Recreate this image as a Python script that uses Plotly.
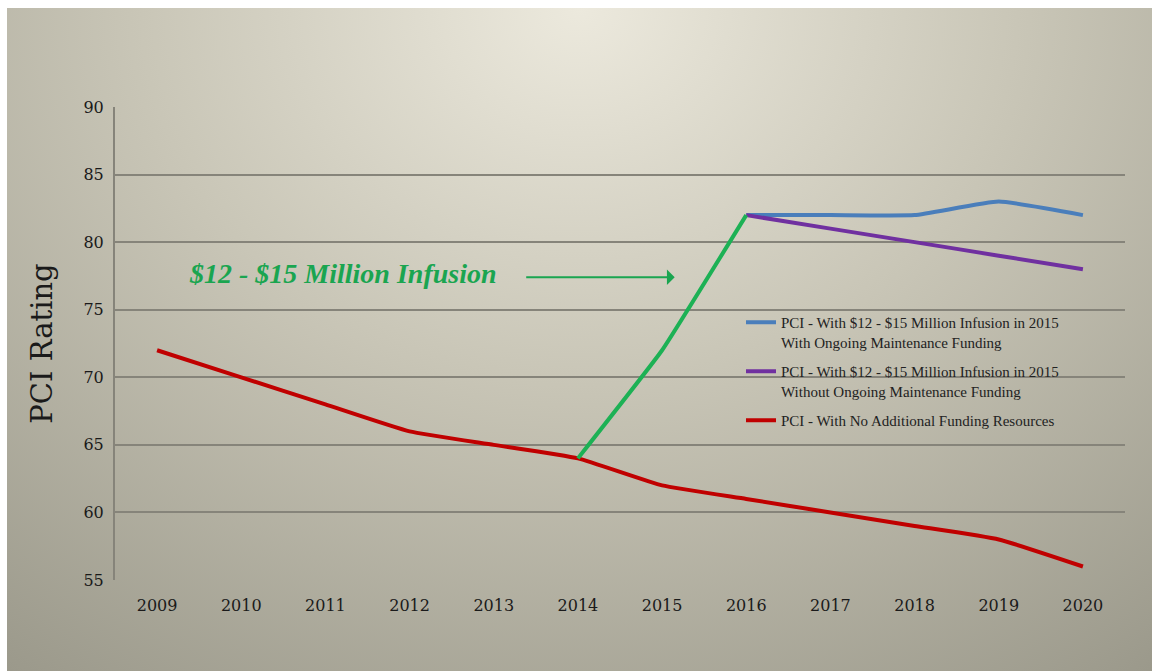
import base64
import plotly.graph_objects as go

years = ["2009", "2010", "2011", "2012", "2013", "2014", "2015", "2016", "2017", "2018", "2019", "2020"]
no_funding = [72, 70, 68, 66, 65, 64, 62, 61, 60, 59, 58, 56]
infusion_years = ["2014", "2015", "2016"]
infusion_vals = [64, 72, 82]
later_years = ["2016", "2017", "2018", "2019", "2020"]
with_maint = [82, 82, 82, 83, 82]
without_maint = [82, 81, 80, 79, 78]
y_ticks = [55, 60, 65, 70, 75, 80, 85, 90]

FONT = "Liberation Serif"
TICKFONT = "DejaVu Serif"

fig = go.Figure()
fig.add_trace(go.Scatter(x=later_years, y=with_maint, mode="lines", legendgroup="a",
                         line=dict(color="#4a7ebb", width=4, shape="spline", smoothing=0.4),
                         name="PCI - With $12 - $15 Million Infusion in 2015<br>With Ongoing Maintenance Funding"))
fig.add_trace(go.Scatter(x=later_years, y=without_maint, mode="lines", legendgroup="b",
                         line=dict(color="#7030a0", width=4, shape="spline", smoothing=0.4),
                         name="PCI - With $12 - $15 Million Infusion in 2015<br>Without Ongoing Maintenance Funding"))
fig.add_trace(go.Scatter(x=years, y=no_funding, mode="lines", legendgroup="c",
                         line=dict(color="#c00000", width=4, shape="spline", smoothing=0.4),
                         name="PCI - With No Additional Funding Resources"))
fig.add_trace(go.Scatter(x=infusion_years, y=infusion_vals, mode="lines",
                         line=dict(color="#1db155", width=4, shape="spline", smoothing=0.3),
                         showlegend=False, name="Infusion"))

svg = """<svg xmlns='http://www.w3.org/2000/svg' width='1145' height='663' viewBox='0 0 1145 663' preserveAspectRatio='none'>
<defs><radialGradient id='g' cx='0.5' cy='0' r='0.85' gradientUnits='objectBoundingBox' gradientTransform='translate(0.5,0) scale(1,1.45) translate(-0.5,0)'>
<stop offset='0' stop-color='#ece9dd'/>
<stop offset='0.45' stop-color='#c9c6b7'/>
<stop offset='1' stop-color='#9b998b'/>
</radialGradient></defs>
<rect x='0' y='0' width='1145' height='663' fill='url(#g)'/></svg>"""
src = "data:image/svg+xml;base64," + base64.b64encode(svg.encode()).decode()

L, R, T, B = 115, 27, 107, 91
W, H = 1152, 671
pw, ph = W - L - R, H - T - B

fig.add_layout_image(dict(source=src, xref="paper", yref="paper",
                          x=(7 - L) / pw, y=(H - B - 8) / ph,
                          sizex=(W - 7) / pw, sizey=(H - 8) / ph,
                          xanchor="left", yanchor="top", sizing="stretch", layer="below"))

fig.add_annotation(x=6.15, y=77.4, xref="x", yref="y", ax=-150, ay=0, axref="pixel", ayref="pixel",
                   text="", showarrow=True, arrowhead=1, arrowsize=1.3, arrowwidth=2, arrowcolor="#1aa550")
fig.add_annotation(x=(343 - L) / pw, y=(H - B - 273) / ph, xref="paper", yref="paper",
                   xanchor="center", yanchor="middle",
                   text="<b><i>$12 - $15 Million Infusion</i></b>", showarrow=False,
                   font=dict(family=FONT, size=28, color="#1aa550"))

fig.update_layout(
    width=W, height=H,
    margin=dict(l=L, r=R, t=T, b=B),
    paper_bgcolor="white",
    plot_bgcolor="rgba(0,0,0,0)",
    font=dict(family=FONT, color="#1a1a1a"),
    showlegend=True,
    legend=dict(x=(741 - L) / pw, y=(H - B - 306) / ph, xanchor="left", yanchor="top",
                bgcolor="rgba(0,0,0,0)", font=dict(family=FONT, size=15, color="#222"),
                tracegroupgap=7, itemwidth=30, valign="top"),
    xaxis=dict(type="category", categoryorder="array", categoryarray=years,
               showgrid=False, zeroline=False, showline=False,
               tickfont=dict(family=TICKFONT, size=16, color="#1a1a1a"), ticklabelstandoff=14,
               range=[-0.5, 11.5], fixedrange=True),
    yaxis=dict(range=[55, 90], tickvals=y_ticks, showgrid=True, gridcolor="#86847a", gridwidth=2,
               zeroline=False, showline=True, linecolor="#86847a", linewidth=2,
               tickfont=dict(family=TICKFONT, size=16, color="#1a1a1a"), ticklabelstandoff=6,
               title=dict(text="PCI Rating", font=dict(family=TICKFONT, size=29, color="#1a1a1a"), standoff=22),
               fixedrange=True),
)

fig.write_html("out.html")
